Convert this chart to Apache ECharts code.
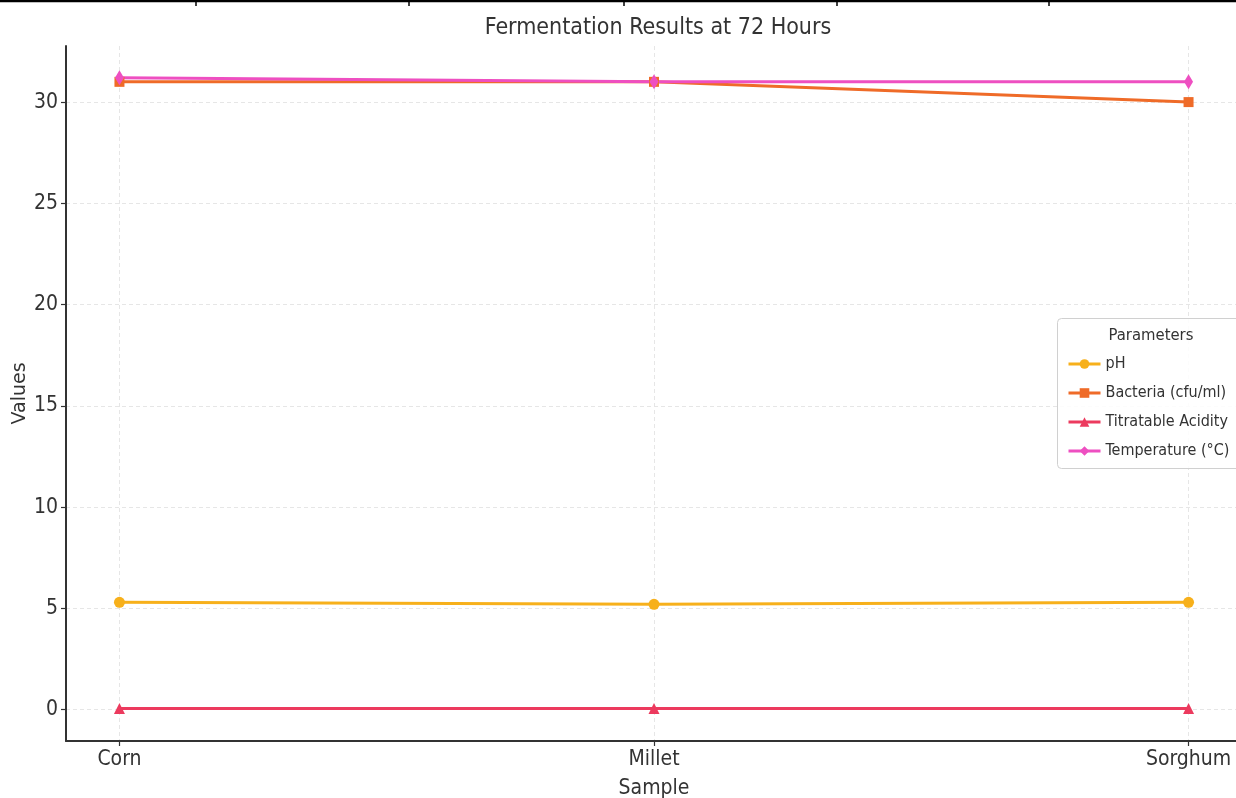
<!DOCTYPE html>
<html>
<head>
<meta charset="utf-8">
<script src="https://cdn.jsdelivr.net/npm/echarts@6/dist/echarts.min.js"></script>
<style>
html,body{margin:0;padding:0;background:#fff;}
#chart{width:1236px;height:798px;}
</style>
</head>
<body>
<div id="chart"></div>
<script>
const categories = ['Corn', 'Millet', 'Sorghum'];
const phValues = [5.3, 5.2, 5.3];
const bacteriaValues = [31.0, 31.0, 30.0];
const acidityValues = [0.05, 0.05, 0.05];
const temperatureValues = [31.2, 31.0, 31.0];
const yTicks = [0, 5, 10, 15, 20, 25, 30];
const seriesNames = ['pH', 'Bacteria (cfu/ml)', 'Titratable Acidity', 'Temperature (°C)'];

const FONT = '"DejaVu Sans Condensed", "DejaVu Sans", sans-serif';
const toPairs = arr => arr.map((v, i) => [i, v]);
const xIdx = categories.map((c, i) => i);

const chart = echarts.init(document.getElementById('chart'), null, {renderer: 'canvas'});

function mkSeries(name, data, color, symbol, size) {
  return {
    name: name,
    type: 'line',
    data: toPairs(data),
    symbol: symbol,
    symbolSize: size,
    showSymbol: true,
    lineStyle: {color: color, width: 3},
    itemStyle: {color: color},
    emphasis: {disabled: true},
    animation: false
  };
}

chart.setOption({
  animation: false,
  backgroundColor: '#fff',
  title: [{
    text: 'Fermentation Results at 72 Hours',
    left: 653, top: 12, textAlign: 'center',
    textStyle: {fontFamily: FONT, fontSize: 23, fontWeight: 'normal', color: '#333'}
  }, {
    text: 'Parameters',
    left: 1146, top: 322, textAlign: 'center',
    textStyle: {fontFamily: FONT, fontSize: 16.5, fontWeight: 'normal', color: '#333'}
  }],
  graphic: [
    {type: 'rect', shape: {x: 1057.5, y: 318.5, width: 190, height: 150, r: 4},
     style: {fill: 'rgba(255,255,255,0.85)', stroke: '#d0d0d0', lineWidth: 1}, z: 5},
    {type: 'line', shape: {x1: 0, y1: 1, x2: 1236, y2: 1}, style: {stroke: '#000', lineWidth: 2.5}, z: 10},
    {type: 'line', shape: {x1: 196, y1: 0, x2: 196, y2: 6}, style: {stroke: '#000', lineWidth: 1.5}, z: 10},
    {type: 'line', shape: {x1: 409, y1: 0, x2: 409, y2: 6}, style: {stroke: '#000', lineWidth: 1.5}, z: 10},
    {type: 'line', shape: {x1: 624, y1: 0, x2: 624, y2: 6}, style: {stroke: '#000', lineWidth: 1.5}, z: 10},
    {type: 'line', shape: {x1: 837, y1: 0, x2: 837, y2: 6}, style: {stroke: '#000', lineWidth: 1.5}, z: 10},
    {type: 'line', shape: {x1: 1049, y1: 0, x2: 1049, y2: 6}, style: {stroke: '#000', lineWidth: 1.5}, z: 10}
  ],
  legend: {
    data: seriesNames,
    orient: 'vertical',
    left: 1062, top: 351,
    itemWidth: 32, itemHeight: 12,
    itemGap: 13,
    z: 6,
    lineStyle: {width: 3},
    textStyle: {fontFamily: FONT, fontSize: 16, color: '#333'},
    selectedMode: false
  },
  grid: {left: 66, top: 46, width: 1176, height: 695, containLabel: false, outerBoundsMode: 'none'},
  xAxis: {
    type: 'value',
    min: -0.1, max: 2.1,
    name: 'Sample',
    nameLocation: 'middle',
    nameGap: 37,
    nameMoveOverlap: false,
    nameTextStyle: {fontFamily: FONT, fontSize: 21, color: '#333'},
    axisLine: {show: true, onZero: false, lineStyle: {color: '#333', width: 2}},
    axisTick: {show: true, length: 5, customValues: xIdx, lineStyle: {color: '#333', width: 1.2}},
    axisLabel: {customValues: xIdx, formatter: v => categories[Math.round(v)] || '',
      fontFamily: FONT, fontSize: 21, color: '#333', margin: 8},
    splitLine: {show: true, lineStyle: {color: '#e6e6e6', type: [4, 3], width: 1}}
  },
  yAxis: {
    type: 'value',
    min: -1.55, max: 32.77,
    name: 'Values',
    nameLocation: 'middle',
    nameGap: 36,
    nameMoveOverlap: false,
    nameTextStyle: {fontFamily: '"DejaVu Sans", sans-serif', fontSize: 19, color: '#333'},
    axisLine: {show: true, onZero: false, lineStyle: {color: '#333', width: 2}},
    axisTick: {show: true, length: 5, customValues: yTicks, lineStyle: {color: '#333', width: 1.2}},
    axisLabel: {customValues: yTicks, formatter: v => String(Math.round(v)),
      fontFamily: FONT, fontSize: 21, color: '#333', margin: 8},
    splitLine: {show: true, lineStyle: {color: '#e6e6e6', type: [4, 3], width: 1}}
  },
  series: [
    mkSeries(seriesNames[0], phValues, '#F7B01B', 'circle', 11),
    mkSeries(seriesNames[1], bacteriaValues, '#EF6B28', 'rect', 10),
    mkSeries(seriesNames[2], acidityValues, '#EC3A5E', 'triangle', 11),
    mkSeries(seriesNames[3], temperatureValues, '#EE4FC1', 'diamond', [9, 15])
  ]
});
</script>
</body>
</html>
